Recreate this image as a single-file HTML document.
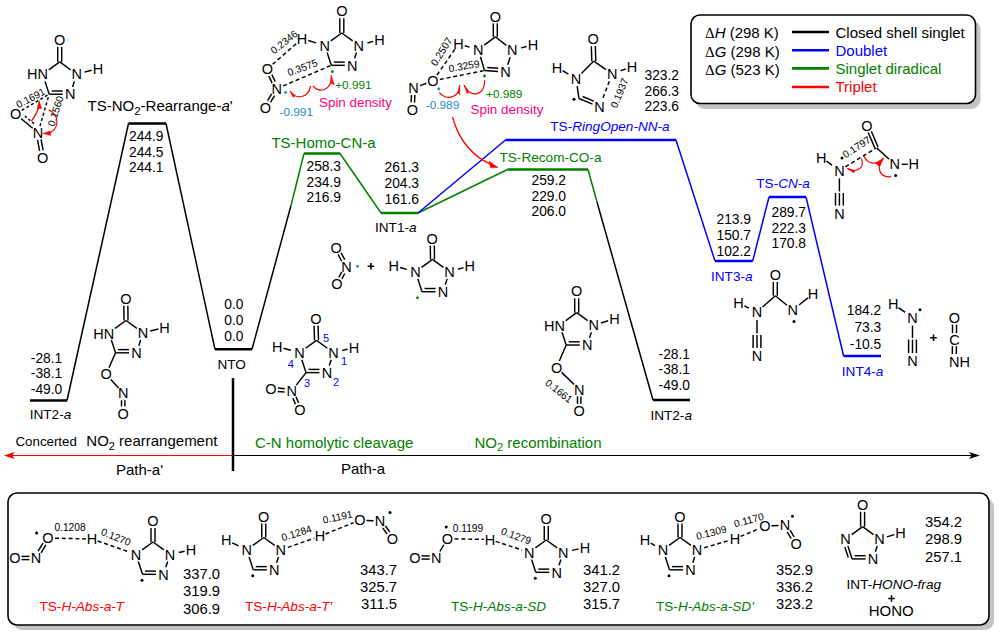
<!DOCTYPE html>
<html><head><meta charset="utf-8">
<style>
html,body{margin:0;padding:0;background:#fff;width:1000px;height:636px;overflow:hidden}
svg{display:block;font-family:"Liberation Sans",sans-serif}
.n{font-size:13.8px;fill:#000}
.lb{font-size:15px}
.it{font-style:italic}
</style></head><body>
<svg width="1000" height="636" viewBox="0 0 1000 636">
<!-- legend box -->
<rect x="695.5" y="20.5" width="285" height="88.5" rx="9" fill="#c4c4c4"/>
<rect x="691" y="15" width="284.5" height="88.5" rx="9" fill="#fff" stroke="#000" stroke-width="1.6"/>
<!-- bottom box -->
<rect x="13" y="498" width="981" height="132" rx="9" fill="#c4c4c4"/>
<rect x="8" y="493" width="981" height="132" rx="9" fill="#fff" stroke="#000" stroke-width="1.6"/>

<!-- energy levels -->
<g fill="none" stroke-linejoin="miter" stroke-linecap="butt">
 <g stroke="#000">
  <path d="M30 400.5H67" stroke-width="2.5"/>
  <path d="M67 400.5L128.5 123.5M166 123.5L215 349.3" stroke-width="1.5"/>
  <path d="M128.5 123.5H166" stroke-width="2.5"/>
  <path d="M215 349.3H252" stroke-width="2.5"/>
  <path d="M252 349.3L291 205.5" stroke-width="1.5"/>
  <path d="M597 202L653 400" stroke-width="1.5"/>
  <path d="M653 400H690" stroke-width="2.5"/>
 </g>
 <g stroke="#008000">
  <path d="M291 205.5L304 153.5M340 153.5L381 213M418 213L507.5 169.5M588 169.5L597 202" stroke-width="1.5"/>
  <path d="M304 153.5H340M381 213H418M507.5 169.5H588" stroke-width="2.5"/>
 </g>
 <g stroke="#0000ff">
  <path d="M418 213L505.5 140M676 140L715 261M752.7 261L769 197M806 197L843.6 356" stroke-width="1.5"/>
  <path d="M505.5 140H676M715 261H752.7M769 197H806M843.6 356H881" stroke-width="2.5"/>
 </g>
</g>

<!-- axis -->
<path d="M233 455.5H972" stroke="#000" stroke-width="1.1"/>
<path d="M979.8 455.5L969 452L971.5 455.5L969 459Z" fill="#000"/>
<path d="M233 455.5H12" stroke="#ff0000" stroke-width="1.2"/>
<path d="M3.8 455.5L14.6 452L12.3 455.5L14.6 459Z" fill="#ff0000"/>
<path d="M233 378V471" stroke="#000" stroke-width="2.5"/>

<!-- legend -->
<g class="lb">
 <text x="705" y="37.5"><tspan font-family="Liberation Serif">&#916;</tspan><tspan class="it">H</tspan> (298 K)</text>
 <text x="705" y="56.5"><tspan font-family="Liberation Serif">&#916;</tspan><tspan class="it">G</tspan> (298 K)</text>
 <text x="705" y="75"><tspan font-family="Liberation Serif">&#916;</tspan><tspan class="it">G</tspan> (523 K)</text>
 <path d="M792 32H829" stroke="#000" stroke-width="2.6"/>
 <path d="M792 50.2H829" stroke="#0000ff" stroke-width="2.6"/>
 <path d="M792 68.4H829" stroke="#008000" stroke-width="2.6"/>
 <path d="M792 87H829" stroke="#ff0000" stroke-width="2.6"/>
 <text x="835.5" y="37.5">Closed shell singlet</text>
 <text x="835.5" y="56" fill="#0000ff">Doublet</text>
 <text x="835.5" y="73.5" fill="#008000">Singlet diradical</text>
 <text x="835.5" y="92" fill="#ff0000">Triplet</text>
</g>

<!-- numbers -->
<g class="n" text-anchor="end">
 <text x="62.3" y="362.5">-28.1</text><text x="62.3" y="378">-38.1</text><text x="62.3" y="393.5">-49.0</text>
 <text x="163.5" y="140.5">244.9</text><text x="163.5" y="156.5">244.5</text><text x="163.5" y="172">244.1</text>
 <text x="243.5" y="309">0.0</text><text x="243.5" y="325">0.0</text><text x="243.5" y="340.5">0.0</text>
 <text x="341" y="171">258.3</text><text x="341" y="186.6">234.9</text><text x="341" y="202">216.9</text>
 <text x="419" y="172.3">261.3</text><text x="419" y="188.4">204.3</text><text x="419" y="203.8">161.6</text>
 <text x="679" y="80">323.2</text><text x="679" y="95.6">266.3</text><text x="679" y="110.7">223.6</text>
 <text x="566" y="185">259.2</text><text x="566" y="200.5">229.0</text><text x="566" y="216">206.0</text>
 <text x="690" y="358.7">-28.1</text><text x="690" y="374.3">-38.1</text><text x="690" y="390">-49.0</text>
 <text x="751" y="224">213.9</text><text x="751" y="239.9">150.7</text><text x="751" y="255.5">102.2</text>
 <text x="806" y="217.2">289.7</text><text x="806" y="232.8">222.3</text><text x="806" y="248.4">170.8</text>
 <text x="881.3" y="314.5">184.2</text><text x="881.3" y="332">73.3</text><text x="881.3" y="349.2">-10.5</text>
</g>
<g class="n" text-anchor="end" style="font-size:14.8px">
 <text x="220" y="578.7">337.0</text><text x="220" y="596">319.9</text><text x="220" y="613.7">306.9</text>
 <text x="397" y="575">343.7</text><text x="397" y="591.7">325.7</text><text x="397" y="609.2">311.5</text>
 <text x="620" y="575">341.2</text><text x="620" y="591.7">327.0</text><text x="620" y="609.2">315.7</text>
 <text x="813" y="574.5">352.9</text><text x="813" y="591.7">336.2</text><text x="813" y="609.2">323.2</text>
 <text x="962" y="526.6">354.2</text><text x="962" y="544.3">298.9</text><text x="962" y="561.7">257.1</text>
</g>

<!-- labels -->
<g class="lb">
 <text x="29.7" y="419" font-size="13.6">INT2-<tspan class="it">a</tspan></text>
 <text x="87.5" y="110.7">TS-NO<tspan font-size="11.5" dy="4">2</tspan><tspan dy="-4">-Rearrange-</tspan><tspan class="it">a</tspan>'</text>
 <text x="217.5" y="369.3" font-size="13.6">NTO</text>
 <text x="271.4" y="148" fill="#008000">TS-Homo-CN-a</text>
 <text x="375" y="232" font-size="13.6">INT1-<tspan class="it">a</tspan></text>
 <text x="550.3" y="130.8" fill="#0000ff" font-size="13.6">TS-<tspan class="it">RingOpen-NN-a</tspan></text>
 <text x="499.5" y="161.5" fill="#008000" font-size="13.6">TS-Recom-CO-a</text>
 <text x="650.4" y="419.6" font-size="13.6">INT2-<tspan class="it">a</tspan></text>
 <text x="711" y="280.6" fill="#0000ff" font-size="13.6">INT3-<tspan class="it">a</tspan></text>
 <text x="756.3" y="188" fill="#0000ff" font-size="13.6">TS-<tspan class="it">CN-a</tspan></text>
 <text x="841.8" y="376.3" fill="#0000ff" font-size="13.6">INT4-<tspan class="it">a</tspan></text>
 <text x="15.5" y="446" font-size="13.3">Concerted</text><text x="86.3" y="446">NO<tspan font-size="11" dy="3.5">2</tspan><tspan dy="-3.5"> rearrangement</tspan></text>
 <text x="116" y="474.5">Path-a'</text>
 <text x="255" y="447.5" fill="#008000">C-N homolytic cleavage</text>
 <text x="341" y="474">Path-a</text>
 <text x="474.5" y="447.5" fill="#008000">NO<tspan font-size="11" dy="3.5">2</tspan><tspan dy="-3.5"> recombination</tspan></text>
 <text x="39.5" y="610.5" font-size="13.6" fill="#ff0000">TS-<tspan class="it">H-Abs-a-T</tspan></text>
 <text x="245" y="610.5" font-size="13.6" fill="#ff0000">TS-<tspan class="it">H-Abs-a-T'</tspan></text>
 <text x="451" y="610.5" font-size="13.6" fill="#008000">TS-<tspan class="it">H-Abs-a-SD</tspan></text>
 <text x="656" y="610.5" font-size="13.6" fill="#008000">TS-<tspan class="it">H-Abs-a-SD'</tspan></text>
 <text x="846.6" y="588.7" font-size="13.6">INT-<tspan class="it">HONO-frag</tspan></text>
 <path d="M888.3 598.5H894.7M891.5 595.3V601.7" stroke="#000" stroke-width="1.5"/>
 <text x="868.7" y="616.2" font-size="15">HONO</text>
</g>
<g fill="none" stroke-linecap="butt">
<path d="M61.70 61.90L61.70 46.90" stroke="#000" stroke-width="1.45"/>
<path d="M57.70 61.90L57.70 46.90" stroke="#000" stroke-width="1.45"/>
<path d="M59.70 61.90L48.78 69.84" stroke="#000" stroke-width="1.45"/>
<path d="M59.70 61.90L70.62 69.84" stroke="#000" stroke-width="1.45"/>
<path d="M45.03 81.38L49.20 94.22" stroke="#000" stroke-width="1.45"/>
<path d="M74.37 81.38L72.52 87.08" stroke="#000" stroke-width="1.45"/>
<path d="M49.20 94.22L62.70 94.22" stroke="#000" stroke-width="1.45"/>
<path d="M51.70 91.02L62.70 91.02" stroke="#000" stroke-width="1.45"/>
<path d="M84.41 72.16L91.72 70.19" stroke="#000" stroke-width="1.45"/>
<path d="M21.05 118.51L32.65 128.29" stroke="#000" stroke-width="1.45"/>
<path d="M24.80 115.98L34.40 124.12" stroke="#000" stroke-width="1.45" stroke-dasharray="2.5,2.2"/>
<path d="M37.54 140.01L39.62 150.96" stroke="#000" stroke-width="1.45"/>
<path d="M41.08 139.34L43.16 150.29" stroke="#000" stroke-width="1.45"/>
<path d="M21.73 110.44L48.34 94.72" stroke="#000" stroke-width="1.45" stroke-dasharray="3,2.4"/>
<path d="M39.95 126.08L48.92 95.18" stroke="#000" stroke-width="1.45" stroke-dasharray="3,2.4"/>
<path d="M31.3 121.2 Q37 114 39.4 105" stroke="#ff0000" stroke-width="1.2" fill="none"/>
<path d="M39.1 100.3 L37.1 108.6 L41.7 108.6 Z" stroke="#ff0000" stroke-width="0.4" fill="#ff0000"/>
<path d="M48.6 109.9 C60 114, 60 131, 47 133.4" stroke="#ff0000" stroke-width="1.2" fill="none"/>
<path d="M42.6 133.5 L50 131 L50.8 135.6 Z" stroke="#ff0000" stroke-width="0.4" fill="#ff0000"/>
<path d="M343.80 33.00L343.80 18.30" stroke="#000" stroke-width="1.45"/>
<path d="M339.80 33.00L339.80 18.30" stroke="#000" stroke-width="1.45"/>
<path d="M341.80 33.00L330.88 40.94" stroke="#000" stroke-width="1.45"/>
<path d="M341.80 33.00L352.72 40.94" stroke="#000" stroke-width="1.45"/>
<path d="M327.13 52.48L331.30 65.32" stroke="#000" stroke-width="1.45"/>
<path d="M356.47 52.48L354.62 58.18" stroke="#000" stroke-width="1.45"/>
<path d="M331.30 65.32L344.80 65.32" stroke="#000" stroke-width="1.45"/>
<path d="M333.80 62.12L344.80 62.12" stroke="#000" stroke-width="1.45"/>
<path d="M316.17 42.83L308.24 40.52" stroke="#000" stroke-width="1.45"/>
<path d="M367.46 42.94L373.24 41.34" stroke="#000" stroke-width="1.45"/>
<path d="M268.77 75.95L272.16 83.11" stroke="#000" stroke-width="1.45"/>
<path d="M271.84 74.49L275.23 81.65" stroke="#000" stroke-width="1.45"/>
<path d="M271.64 93.82L267.55 100.62" stroke="#000" stroke-width="1.45"/>
<path d="M274.55 95.58L270.46 102.38" stroke="#000" stroke-width="1.45"/>
<path d="M272.58 64.30L297.10 42.97" stroke="#000" stroke-width="1.45" stroke-dasharray="4,2.8"/>
<path d="M283.13 85.94L330.38 65.71" stroke="#000" stroke-width="1.45" stroke-dasharray="4,2.8"/>
<path d="M290.2 91 C294 99, 308 100, 310.6 85.9" stroke="#ff0000" stroke-width="1.2" fill="none"/>
<path d="M290.2 91 L293.2 97.6 L295.2 95.6 Z" stroke="#ff0000" stroke-width="0.4" fill="#ff0000"/>
<path d="M313 85.9 C318 93, 332 92, 331.3 75.4" stroke="#ff0000" stroke-width="1.2" fill="none"/>
<path d="M331.3 75.4 L331.5 84 L334.2 84.4 Z" stroke="#ff0000" stroke-width="0.4" fill="#ff0000"/>
<path d="M497.30 36.80L497.30 23.40" stroke="#000" stroke-width="1.45"/>
<path d="M493.30 36.80L493.30 23.40" stroke="#000" stroke-width="1.45"/>
<path d="M495.30 36.80L484.29 45.09" stroke="#000" stroke-width="1.45"/>
<path d="M495.30 36.80L506.38 45.40" stroke="#000" stroke-width="1.45"/>
<path d="M480.43 56.79L484.50 70.50" stroke="#000" stroke-width="1.45"/>
<path d="M510.09 57.17L507.71 64.83" stroke="#000" stroke-width="1.45"/>
<path d="M484.50 70.50L498.02 71.47" stroke="#000" stroke-width="1.45"/>
<path d="M487.22 67.49L498.25 68.27" stroke="#000" stroke-width="1.45"/>
<path d="M469.64 47.15L464.75 45.77" stroke="#000" stroke-width="1.45"/>
<path d="M521.05 47.89L526.68 46.53" stroke="#000" stroke-width="1.45"/>
<path d="M420.07 85.58L426.43 83.22" stroke="#000" stroke-width="1.45"/>
<path d="M411.48 94.91L411.13 102.33" stroke="#000" stroke-width="1.45"/>
<path d="M414.87 95.07L414.52 102.49" stroke="#000" stroke-width="1.45"/>
<path d="M436.99 75.05L454.80 49.34" stroke="#000" stroke-width="1.45" stroke-dasharray="4,2.8"/>
<path d="M439.86 79.43L483.52 70.70" stroke="#000" stroke-width="1.45" stroke-dasharray="4,2.8"/>
<path d="M439.3 92.2 C444 100, 459 100, 459.7 85.3" stroke="#ff0000" stroke-width="1.2" fill="none"/>
<path d="M459.7 85.3 L457.8 92.4 L459.8 94.8 Z" stroke="#ff0000" stroke-width="0.4" fill="#ff0000"/>
<path d="M464.2 85.3 C468 97, 485 98, 484.6 80.2" stroke="#ff0000" stroke-width="1.2" fill="none"/>
<path d="M464.2 85.3 L467 93.6 L469.2 91.8 Z" stroke="#ff0000" stroke-width="0.4" fill="#ff0000"/>
<path d="M452.5 117 Q462 152 493 165.5" stroke="#ff0000" stroke-width="1.3" fill="none"/>
<path d="M498 167.5 L489 161 L490.5 167.8 Z" stroke="#ff0000" stroke-width="0.5" fill="#ff0000"/>
<path d="M595.80 61.04L595.32 46.03" stroke="#000" stroke-width="1.45"/>
<path d="M591.80 61.16L591.32 46.16" stroke="#000" stroke-width="1.45"/>
<path d="M593.80 61.10L581.42 73.41" stroke="#000" stroke-width="1.45"/>
<path d="M593.80 61.10L606.03 69.54" stroke="#000" stroke-width="1.45"/>
<path d="M577.19 86.12L579.00 98.50" stroke="#000" stroke-width="1.45"/>
<path d="M579.00 98.50L592.57 104.13" stroke="#000" stroke-width="1.45"/>
<path d="M582.54 96.50L593.80 101.17" stroke="#000" stroke-width="1.45"/>
<path d="M568.35 74.12L562.59 70.71" stroke="#000" stroke-width="1.45"/>
<path d="M620.67 70.76L625.88 68.89" stroke="#000" stroke-width="1.45"/>
<path d="M609.34 81.27L602.36 99.53" stroke="#000" stroke-width="1.45" stroke-dasharray="4,2.8"/>
<path d="M878.16 147.23L871.31 131.17" stroke="#000" stroke-width="1.45"/>
<path d="M875.04 148.57L868.18 132.51" stroke="#000" stroke-width="1.45"/>
<path d="M876.60 147.90L889.23 159.28" stroke="#000" stroke-width="1.45"/>
<path d="M901.80 164.30L907.80 164.30" stroke="#000" stroke-width="1.45"/>
<path d="M832.08 165.17L826.49 161.18" stroke="#000" stroke-width="1.45"/>
<path d="M839.40 178.40L839.40 191.50" stroke="#000" stroke-width="1.45"/>
<path d="M843.30 193.00L843.30 205.60" stroke="#000" stroke-width="1.45"/>
<path d="M839.40 193.00L839.40 205.60" stroke="#000" stroke-width="1.45"/>
<path d="M835.50 193.00L835.50 205.60" stroke="#000" stroke-width="1.45"/>
<path d="M845.39 166.78L875.74 148.42" stroke="#000" stroke-width="1.45" stroke-dasharray="4,2.8"/>
<path d="M847.2 168.3 C853 173, 866 170, 861.3 158.4" stroke="#ff0000" stroke-width="1.2" fill="none"/>
<path d="M847.2 168.3 L853.8 173 L855 170.4 Z" stroke="#ff0000" stroke-width="0.4" fill="#ff0000"/>
<path d="M864 156 C867 164, 878 166, 883.2 158.4" stroke="#ff0000" stroke-width="1.2" fill="none"/>
<path d="M883.2 158.4 C876 167, 879 178, 891 176.7" stroke="#ff0000" stroke-width="1.2" fill="none"/>
<path d="M883.5 158.2 L875.5 162.8 L878 165 Z" stroke="#ff0000" stroke-width="0.4" fill="#ff0000"/>
<path d="M883.5 158.2 L876.8 164.5 L879.8 166.5 Z" stroke="#ff0000" stroke-width="0.4" fill="#ff0000"/>
<path d="M777.30 295.70L777.30 282.00" stroke="#000" stroke-width="1.45"/>
<path d="M773.30 295.70L773.30 282.00" stroke="#000" stroke-width="1.45"/>
<path d="M775.30 295.70L762.60 307.01" stroke="#000" stroke-width="1.45"/>
<path d="M775.30 295.70L786.99 305.25" stroke="#000" stroke-width="1.45"/>
<path d="M748.91 308.06L744.35 305.84" stroke="#000" stroke-width="1.45"/>
<path d="M799.03 304.98L807.84 297.88" stroke="#000" stroke-width="1.45"/>
<path d="M757.00 320.00L757.00 333.50" stroke="#000" stroke-width="1.45"/>
<path d="M760.90 335.00L760.90 348.00" stroke="#000" stroke-width="1.45"/>
<path d="M757.00 335.00L757.00 348.00" stroke="#000" stroke-width="1.45"/>
<path d="M753.10 335.00L753.10 348.00" stroke="#000" stroke-width="1.45"/>
<path d="M905.18 312.37L898.49 307.58" stroke="#000" stroke-width="1.45"/>
<path d="M912.50 325.60L912.50 338.00" stroke="#000" stroke-width="1.45"/>
<path d="M916.40 339.50L916.40 353.00" stroke="#000" stroke-width="1.45"/>
<path d="M912.50 339.50L912.50 353.00" stroke="#000" stroke-width="1.45"/>
<path d="M908.60 339.50L908.60 353.00" stroke="#000" stroke-width="1.45"/>
<path d="M930.20 337.80H936.80M933.50 334.50V341.10" stroke="#000" stroke-width="1.6"/>
<path d="M956.50 333.10L956.50 324.60" stroke="#000" stroke-width="1.45"/>
<path d="M952.50 333.10L952.50 324.60" stroke="#000" stroke-width="1.45"/>
<path d="M952.41 346.07L952.30 353.97" stroke="#000" stroke-width="1.45"/>
<path d="M956.41 346.13L956.30 354.03" stroke="#000" stroke-width="1.45"/>
<path d="M344.76 259.64L341.03 252.75" stroke="#000" stroke-width="1.45"/>
<path d="M341.77 261.25L338.04 254.36" stroke="#000" stroke-width="1.45"/>
<path d="M341.76 271.93L338.86 277.24" stroke="#000" stroke-width="1.45"/>
<path d="M344.74 273.56L341.84 278.87" stroke="#000" stroke-width="1.45"/>
<path d="M367.60 266.30H374.20M370.90 263.00V269.60" stroke="#000" stroke-width="1.6"/>
<path d="M434.50 259.37L434.30 245.57" stroke="#000" stroke-width="1.45"/>
<path d="M430.50 259.43L430.30 245.63" stroke="#000" stroke-width="1.45"/>
<path d="M432.50 259.40L421.58 267.34" stroke="#000" stroke-width="1.45"/>
<path d="M432.50 259.40L443.42 267.34" stroke="#000" stroke-width="1.45"/>
<path d="M417.83 278.88L422.00 291.72" stroke="#000" stroke-width="1.45"/>
<path d="M447.17 278.88L445.32 284.58" stroke="#000" stroke-width="1.45"/>
<path d="M422.00 291.72L435.50 291.72" stroke="#000" stroke-width="1.45"/>
<path d="M424.50 288.52L435.50 288.52" stroke="#000" stroke-width="1.45"/>
<path d="M406.83 269.37L400.07 267.52" stroke="#000" stroke-width="1.45"/>
<path d="M458.13 269.22L463.56 267.63" stroke="#000" stroke-width="1.45"/>
<path d="M318.50 340.24L318.09 325.54" stroke="#000" stroke-width="1.45"/>
<path d="M314.50 340.36L314.09 325.65" stroke="#000" stroke-width="1.45"/>
<path d="M316.50 340.30L305.58 348.24" stroke="#000" stroke-width="1.45"/>
<path d="M316.50 340.30L327.42 348.24" stroke="#000" stroke-width="1.45"/>
<path d="M301.83 359.78L306.00 372.62" stroke="#000" stroke-width="1.45"/>
<path d="M331.17 359.78L329.32 365.48" stroke="#000" stroke-width="1.45"/>
<path d="M306.00 372.62L319.50 372.62" stroke="#000" stroke-width="1.45"/>
<path d="M308.50 369.42L319.50 369.42" stroke="#000" stroke-width="1.45"/>
<path d="M290.82 350.29L283.47 348.30" stroke="#000" stroke-width="1.45"/>
<path d="M342.22 350.45L347.70 349.08" stroke="#000" stroke-width="1.45"/>
<path d="M306.00 372.62L296.30 385.08" stroke="#000" stroke-width="1.45"/>
<path d="M284.88 388.67L278.03 388.04" stroke="#000" stroke-width="1.45"/>
<path d="M284.57 392.06L277.72 391.43" stroke="#000" stroke-width="1.45"/>
<path d="M292.88 398.11L295.49 404.23" stroke="#000" stroke-width="1.45"/>
<path d="M296.01 396.77L298.62 402.89" stroke="#000" stroke-width="1.45"/>
<path d="M128.00 320.48L127.86 305.78" stroke="#000" stroke-width="1.45"/>
<path d="M124.00 320.52L123.86 305.82" stroke="#000" stroke-width="1.45"/>
<path d="M126.00 320.50L115.08 328.44" stroke="#000" stroke-width="1.45"/>
<path d="M126.00 320.50L136.92 328.44" stroke="#000" stroke-width="1.45"/>
<path d="M111.33 339.98L115.50 352.82" stroke="#000" stroke-width="1.45"/>
<path d="M140.67 339.98L138.82 345.68" stroke="#000" stroke-width="1.45"/>
<path d="M115.50 352.82L129.00 352.82" stroke="#000" stroke-width="1.45"/>
<path d="M118.00 349.62L129.00 349.62" stroke="#000" stroke-width="1.45"/>
<path d="M150.27 331.04L158.29 329.06" stroke="#000" stroke-width="1.45"/>
<path d="M115.50 352.82L108.99 367.78" stroke="#000" stroke-width="1.45"/>
<path d="M110.85 379.43L118.55 388.07" stroke="#000" stroke-width="1.45"/>
<path d="M121.50 400.30L121.50 406.40" stroke="#000" stroke-width="1.45"/>
<path d="M124.90 400.30L124.90 406.40" stroke="#000" stroke-width="1.45"/>
<path d="M578.70 312.70L578.70 298.30" stroke="#000" stroke-width="1.45"/>
<path d="M574.70 312.70L574.70 298.30" stroke="#000" stroke-width="1.45"/>
<path d="M576.70 312.70L565.78 320.64" stroke="#000" stroke-width="1.45"/>
<path d="M576.70 312.70L587.62 320.64" stroke="#000" stroke-width="1.45"/>
<path d="M562.03 332.18L566.20 345.02" stroke="#000" stroke-width="1.45"/>
<path d="M591.37 332.18L589.52 337.88" stroke="#000" stroke-width="1.45"/>
<path d="M566.20 345.02L579.70 345.02" stroke="#000" stroke-width="1.45"/>
<path d="M568.70 341.82L579.70 341.82" stroke="#000" stroke-width="1.45"/>
<path d="M600.89 322.94L608.16 320.82" stroke="#000" stroke-width="1.45"/>
<path d="M566.20 345.02L559.35 361.06" stroke="#000" stroke-width="1.45"/>
<path d="M561.63 372.37L574.17 384.53" stroke="#000" stroke-width="1.45"/>
<path d="M577.50 396.40L577.50 403.80" stroke="#000" stroke-width="1.45"/>
<path d="M580.90 396.40L580.90 403.80" stroke="#000" stroke-width="1.45"/>
<path d="M21.50 559.60L29.50 559.60" stroke="#000" stroke-width="1.45"/>
<path d="M21.50 556.40L29.50 556.40" stroke="#000" stroke-width="1.45"/>
<path d="M41.06 552.87L45.86 544.88" stroke="#000" stroke-width="1.45"/>
<path d="M38.14 551.12L42.94 543.13" stroke="#000" stroke-width="1.45"/>
<path d="M55.00 538.16L86.00 538.86" stroke="#000" stroke-width="1.45" stroke-dasharray="4,2.8"/>
<path d="M155.00 542.00L155.00 528.00" stroke="#000" stroke-width="1.45"/>
<path d="M151.00 542.00L151.00 528.00" stroke="#000" stroke-width="1.45"/>
<path d="M153.00 542.00L142.08 549.94" stroke="#000" stroke-width="1.45"/>
<path d="M153.00 542.00L163.92 549.94" stroke="#000" stroke-width="1.45"/>
<path d="M138.33 561.48L142.50 574.32" stroke="#000" stroke-width="1.45"/>
<path d="M167.67 561.48L165.82 567.18" stroke="#000" stroke-width="1.45"/>
<path d="M142.50 574.32L156.00 574.32" stroke="#000" stroke-width="1.45"/>
<path d="M145.00 571.12L156.00 571.12" stroke="#000" stroke-width="1.45"/>
<path d="M178.80 552.52L184.63 551.32" stroke="#000" stroke-width="1.45"/>
<path d="M97.67 540.98L128.93 551.87" stroke="#000" stroke-width="1.45" stroke-dasharray="4,2.8"/>
<path d="M265.75 537.50L265.75 523.50" stroke="#000" stroke-width="1.45"/>
<path d="M261.75 537.50L261.75 523.50" stroke="#000" stroke-width="1.45"/>
<path d="M263.75 537.50L252.83 545.44" stroke="#000" stroke-width="1.45"/>
<path d="M263.75 537.50L274.67 545.44" stroke="#000" stroke-width="1.45"/>
<path d="M249.08 556.98L253.25 569.82" stroke="#000" stroke-width="1.45"/>
<path d="M278.42 556.98L276.57 562.68" stroke="#000" stroke-width="1.45"/>
<path d="M253.25 569.82L266.75 569.82" stroke="#000" stroke-width="1.45"/>
<path d="M255.75 566.62L266.75 566.62" stroke="#000" stroke-width="1.45"/>
<path d="M238.65 545.95L232.11 542.81" stroke="#000" stroke-width="1.45"/>
<path d="M287.83 547.39L314.33 538.21" stroke="#000" stroke-width="1.45" stroke-dasharray="4,2.8"/>
<path d="M325.56 533.99L353.51 522.63" stroke="#000" stroke-width="1.45" stroke-dasharray="4,2.8"/>
<path d="M366.49 520.41L373.51 520.84" stroke="#000" stroke-width="1.45"/>
<path d="M382.69 527.93L387.05 534.04" stroke="#000" stroke-width="1.45"/>
<path d="M385.45 525.96L389.81 532.07" stroke="#000" stroke-width="1.45"/>
<path d="M421.50 559.10L429.75 559.10" stroke="#000" stroke-width="1.45"/>
<path d="M421.50 555.90L429.75 555.90" stroke="#000" stroke-width="1.45"/>
<path d="M439.85 551.50L443.90 544.75" stroke="#000" stroke-width="1.45"/>
<path d="M454.50 538.87L484.00 539.39" stroke="#000" stroke-width="1.45" stroke-dasharray="4,2.8"/>
<path d="M548.25 540.00L548.25 526.00" stroke="#000" stroke-width="1.45"/>
<path d="M544.25 540.00L544.25 526.00" stroke="#000" stroke-width="1.45"/>
<path d="M546.25 540.00L535.33 547.94" stroke="#000" stroke-width="1.45"/>
<path d="M546.25 540.00L557.17 547.94" stroke="#000" stroke-width="1.45"/>
<path d="M531.58 559.48L535.75 572.32" stroke="#000" stroke-width="1.45"/>
<path d="M560.92 559.48L559.07 565.18" stroke="#000" stroke-width="1.45"/>
<path d="M535.75 572.32L549.25 572.32" stroke="#000" stroke-width="1.45"/>
<path d="M538.25 569.12L549.25 569.12" stroke="#000" stroke-width="1.45"/>
<path d="M572.02 550.39L578.66 548.91" stroke="#000" stroke-width="1.45"/>
<path d="M495.70 541.37L522.13 550.01" stroke="#000" stroke-width="1.45" stroke-dasharray="4,2.8"/>
<path d="M682.00 537.50L682.00 523.50" stroke="#000" stroke-width="1.45"/>
<path d="M678.00 537.50L678.00 523.50" stroke="#000" stroke-width="1.45"/>
<path d="M680.00 537.50L669.08 545.44" stroke="#000" stroke-width="1.45"/>
<path d="M680.00 537.50L690.92 545.44" stroke="#000" stroke-width="1.45"/>
<path d="M665.33 556.98L669.50 569.82" stroke="#000" stroke-width="1.45"/>
<path d="M694.67 556.98L692.82 562.68" stroke="#000" stroke-width="1.45"/>
<path d="M669.50 569.82L683.00 569.82" stroke="#000" stroke-width="1.45"/>
<path d="M672.00 566.62L683.00 566.62" stroke="#000" stroke-width="1.45"/>
<path d="M655.11 545.53L650.70 543.12" stroke="#000" stroke-width="1.45"/>
<path d="M704.19 547.74L729.24 540.43" stroke="#000" stroke-width="1.45" stroke-dasharray="4,2.8"/>
<path d="M740.54 536.44L758.54 528.94" stroke="#000" stroke-width="1.45" stroke-dasharray="4,2.8"/>
<path d="M771.49 525.84L778.51 525.41" stroke="#000" stroke-width="1.45"/>
<path d="M787.14 531.88L791.19 538.62" stroke="#000" stroke-width="1.45"/>
<path d="M790.06 530.13L794.11 536.87" stroke="#000" stroke-width="1.45"/>
<path d="M864.60 526.60L864.60 511.80" stroke="#000" stroke-width="1.45"/>
<path d="M860.60 526.60L860.60 511.80" stroke="#000" stroke-width="1.45"/>
<path d="M862.60 526.60L851.68 534.54" stroke="#000" stroke-width="1.45"/>
<path d="M862.60 526.60L873.52 534.54" stroke="#000" stroke-width="1.45"/>
<path d="M847.93 546.08L852.10 558.92" stroke="#000" stroke-width="1.45"/>
<path d="M844.88 547.07L848.28 557.53" stroke="#000" stroke-width="1.45"/>
<path d="M877.27 546.08L875.42 551.78" stroke="#000" stroke-width="1.45"/>
<path d="M852.10 558.92L865.60 558.92" stroke="#000" stroke-width="1.45"/>
<path d="M854.60 555.72L865.60 555.72" stroke="#000" stroke-width="1.45"/>
<path d="M886.79 536.84L894.36 534.62" stroke="#000" stroke-width="1.45"/>
</g>
<g>
<text x="59.70" y="45.09" text-anchor="middle" font-size="14.5" fill="#000" >O</text>
<text x="47.91" y="79.43" text-anchor="end" font-size="14.5" fill="#000" >HN</text>
<text x="76.69" y="79.43" text-anchor="middle" font-size="14.5" fill="#000" >N</text>
<text x="70.20" y="99.41" text-anchor="middle" font-size="14.5" fill="#000" >N</text>
<text x="98.00" y="73.69" text-anchor="middle" font-size="14.5" fill="#000" >H</text>
<text x="15.70" y="119.19" text-anchor="middle" font-size="14.5" fill="#000" >O</text>
<text x="38.00" y="137.99" text-anchor="middle" font-size="14.5" fill="#000" >N</text>
<text x="42.70" y="162.69" text-anchor="middle" font-size="14.5" fill="#000" >O</text>
<text transform="translate(30.50,98.00) rotate(-28)" x="0" y="3.65" text-anchor="middle" font-size="10.2" fill="#000" >0.1691</text>
<text transform="translate(55.50,111.00) rotate(-72)" x="0" y="3.65" text-anchor="middle" font-size="10.2" fill="#000" >0.1560</text>
<text x="341.80" y="16.49" text-anchor="middle" font-size="14.5" fill="#000" >O</text>
<text x="324.81" y="50.53" text-anchor="middle" font-size="14.5" fill="#000" >N</text>
<text x="358.79" y="50.53" text-anchor="middle" font-size="14.5" fill="#000" >N</text>
<text x="352.30" y="70.51" text-anchor="middle" font-size="14.5" fill="#000" >N</text>
<text x="302.00" y="43.89" text-anchor="middle" font-size="14.5" fill="#000" >H</text>
<text x="379.50" y="44.79" text-anchor="middle" font-size="14.5" fill="#000" >H</text>
<text x="267.30" y="74.09" text-anchor="middle" font-size="14.5" fill="#000" >O</text>
<text x="276.70" y="93.89" text-anchor="middle" font-size="14.5" fill="#000" >N</text>
<text x="265.40" y="112.69" text-anchor="middle" font-size="14.5" fill="#000" >O</text>
<text transform="translate(284.00,42.00) rotate(-38)" x="0" y="3.65" text-anchor="middle" font-size="10.2" fill="#000" >0.2346</text>
<text transform="translate(302.50,67.50) rotate(-20)" x="0" y="3.65" text-anchor="middle" font-size="10.2" fill="#000" >0.3575</text>
<circle cx="285.60" cy="92.50" r="1.4" fill="#1a8ad4"/>
<circle cx="332.40" cy="71.70" r="1.4" fill="#008000"/>
<text x="279.50" y="116.02" text-anchor="start" font-size="11.8" fill="#1a8ad4" >-0.991</text>
<text x="335.20" y="88.72" text-anchor="start" font-size="11.8" fill="#008000" >+0.991</text>
<text x="319.00" y="106.80" text-anchor="start" font-size="13.4" fill="#ff0080" >Spin density</text>
<text x="495.30" y="21.59" text-anchor="middle" font-size="14.5" fill="#000" >O</text>
<text x="478.30" y="54.79" text-anchor="middle" font-size="14.5" fill="#000" >N</text>
<text x="512.30" y="55.19" text-anchor="middle" font-size="14.5" fill="#000" >N</text>
<text x="505.50" y="77.19" text-anchor="middle" font-size="14.5" fill="#000" >N</text>
<text x="458.50" y="49.19" text-anchor="middle" font-size="14.5" fill="#000" >H</text>
<text x="533.00" y="50.19" text-anchor="middle" font-size="14.5" fill="#000" >H</text>
<text x="433.00" y="85.99" text-anchor="middle" font-size="14.5" fill="#000" >O</text>
<text x="413.50" y="93.19" text-anchor="middle" font-size="14.5" fill="#000" >N</text>
<text x="412.50" y="114.59" text-anchor="middle" font-size="14.5" fill="#000" >O</text>
<text transform="translate(441.50,51.50) rotate(-58)" x="0" y="3.65" text-anchor="middle" font-size="10.2" fill="#000" >0.2507</text>
<text transform="translate(464.00,66.00) rotate(-10)" x="0" y="3.65" text-anchor="middle" font-size="10.2" fill="#000" >0.3259</text>
<circle cx="438.70" cy="89.00" r="1.4" fill="#1a8ad4"/>
<circle cx="484.50" cy="76.00" r="1.4" fill="#008000"/>
<text x="425.80" y="109.42" text-anchor="start" font-size="11.8" fill="#1a8ad4" >-0.989</text>
<text x="486.00" y="97.72" text-anchor="start" font-size="11.8" fill="#008000" >+0.989</text>
<text x="470.50" y="114.30" text-anchor="start" font-size="13.4" fill="#ff0080" >Spin density</text>
<text x="593.10" y="44.29" text-anchor="middle" font-size="14.5" fill="#000" >O</text>
<text x="576.10" y="83.89" text-anchor="middle" font-size="14.5" fill="#000" >N</text>
<text x="612.20" y="78.99" text-anchor="middle" font-size="14.5" fill="#000" >N</text>
<text x="599.50" y="112.19" text-anchor="middle" font-size="14.5" fill="#000" >N</text>
<text x="557.00" y="72.59" text-anchor="middle" font-size="14.5" fill="#000" >H</text>
<text x="632.00" y="71.89" text-anchor="middle" font-size="14.5" fill="#000" >H</text>
<circle cx="574.00" cy="99.30" r="1.5" fill="#000"/>
<text transform="translate(619.30,93.00) rotate(-68)" x="0" y="3.65" text-anchor="middle" font-size="10.2" fill="#000" >0.1937</text>
<text x="867.00" y="130.59" text-anchor="middle" font-size="14.5" fill="#000" >O</text>
<text x="894.80" y="169.49" text-anchor="middle" font-size="14.5" fill="#000" >N</text>
<text x="913.80" y="169.49" text-anchor="middle" font-size="14.5" fill="#000" >H</text>
<text x="839.40" y="175.59" text-anchor="middle" font-size="14.5" fill="#000" >N</text>
<text x="821.20" y="162.59" text-anchor="middle" font-size="14.5" fill="#000" >H</text>
<text x="839.40" y="218.79" text-anchor="middle" font-size="14.5" fill="#000" >N</text>
<circle cx="895.60" cy="175.50" r="1.5" fill="#000"/>
<circle cx="842.00" cy="158.00" r="1.5" fill="#000"/>
<text transform="translate(856.50,147.00) rotate(-33)" x="0" y="3.65" text-anchor="middle" font-size="10.2" fill="#000" >0.1797</text>
<text x="775.30" y="280.19" text-anchor="middle" font-size="14.5" fill="#000" >O</text>
<text x="757.00" y="317.19" text-anchor="middle" font-size="14.5" fill="#000" >N</text>
<text x="738.50" y="308.19" text-anchor="middle" font-size="14.5" fill="#000" >H</text>
<text x="792.80" y="315.19" text-anchor="middle" font-size="14.5" fill="#000" >N</text>
<text x="812.90" y="298.99" text-anchor="middle" font-size="14.5" fill="#000" >H</text>
<text x="757.00" y="361.19" text-anchor="middle" font-size="14.5" fill="#000" >N</text>
<circle cx="794.00" cy="321.50" r="1.5" fill="#000"/>
<text x="893.20" y="308.99" text-anchor="middle" font-size="14.5" fill="#000" >H</text>
<text x="912.50" y="322.79" text-anchor="middle" font-size="14.5" fill="#000" >N</text>
<text x="912.50" y="366.19" text-anchor="middle" font-size="14.5" fill="#000" >N</text>
<circle cx="920.00" cy="309.80" r="1.5" fill="#000"/>
<text x="954.50" y="322.79" text-anchor="middle" font-size="14.5" fill="#000" >O</text>
<text x="954.50" y="344.79" text-anchor="middle" font-size="14.5" fill="#000" >C</text>
<text x="949.00" y="366.89" text-anchor="start" font-size="14.5" fill="#000" >NH</text>
<text x="336.20" y="252.59" text-anchor="middle" font-size="14.5" fill="#000" >O</text>
<text x="346.60" y="271.79" text-anchor="middle" font-size="14.5" fill="#000" >N</text>
<text x="337.00" y="289.39" text-anchor="middle" font-size="14.5" fill="#000" >O</text>
<circle cx="357.50" cy="266.30" r="1.4" fill="#1a8ad4"/>
<text x="432.20" y="243.79" text-anchor="middle" font-size="14.5" fill="#000" >O</text>
<text x="415.51" y="276.93" text-anchor="middle" font-size="14.5" fill="#000" >N</text>
<text x="449.49" y="276.93" text-anchor="middle" font-size="14.5" fill="#000" >N</text>
<text x="443.00" y="296.91" text-anchor="middle" font-size="14.5" fill="#000" >N</text>
<text x="393.80" y="270.99" text-anchor="middle" font-size="14.5" fill="#000" >H</text>
<text x="469.80" y="270.99" text-anchor="middle" font-size="14.5" fill="#000" >H</text>
<circle cx="417.50" cy="297.80" r="1.4" fill="#008000"/>
<text x="315.90" y="323.79" text-anchor="middle" font-size="14.5" fill="#000" >O</text>
<text x="299.51" y="357.83" text-anchor="middle" font-size="14.5" fill="#000" >N</text>
<text x="333.49" y="357.83" text-anchor="middle" font-size="14.5" fill="#000" >N</text>
<text x="327.00" y="377.81" text-anchor="middle" font-size="14.5" fill="#000" >N</text>
<text x="277.20" y="351.79" text-anchor="middle" font-size="14.5" fill="#000" >H</text>
<text x="354.00" y="352.69" text-anchor="middle" font-size="14.5" fill="#000" >H</text>
<text x="291.70" y="396.19" text-anchor="middle" font-size="14.5" fill="#000" >N</text>
<text x="270.90" y="394.29" text-anchor="middle" font-size="14.5" fill="#000" >O</text>
<text x="299.80" y="415.19" text-anchor="middle" font-size="14.5" fill="#000" >O</text>
<text x="326.00" y="341.54" text-anchor="middle" font-size="11" fill="#0000ff" >5</text>
<text x="344.10" y="364.94" text-anchor="middle" font-size="11" fill="#0000ff" >1</text>
<text x="290.80" y="367.74" text-anchor="middle" font-size="11" fill="#0000ff" >4</text>
<text x="307.00" y="386.74" text-anchor="middle" font-size="11" fill="#0000ff" >3</text>
<text x="336.00" y="385.84" text-anchor="middle" font-size="11" fill="#0000ff" >2</text>
<text x="125.80" y="303.99" text-anchor="middle" font-size="14.5" fill="#000" >O</text>
<text x="114.21" y="338.53" text-anchor="end" font-size="14.5" fill="#000" >HN</text>
<text x="142.99" y="338.03" text-anchor="middle" font-size="14.5" fill="#000" >N</text>
<text x="136.50" y="358.01" text-anchor="middle" font-size="14.5" fill="#000" >N</text>
<text x="164.60" y="332.69" text-anchor="middle" font-size="14.5" fill="#000" >H</text>
<text x="106.20" y="379.39" text-anchor="middle" font-size="14.5" fill="#000" >O</text>
<text x="123.20" y="398.49" text-anchor="middle" font-size="14.5" fill="#000" >N</text>
<text x="123.20" y="418.59" text-anchor="middle" font-size="14.5" fill="#000" >O</text>
<text x="576.70" y="296.49" text-anchor="middle" font-size="14.5" fill="#000" >O</text>
<text x="564.91" y="330.73" text-anchor="end" font-size="14.5" fill="#000" >HN</text>
<text x="593.69" y="330.23" text-anchor="middle" font-size="14.5" fill="#000" >N</text>
<text x="587.20" y="350.21" text-anchor="middle" font-size="14.5" fill="#000" >N</text>
<text x="614.40" y="324.19" text-anchor="middle" font-size="14.5" fill="#000" >H</text>
<text x="556.60" y="372.69" text-anchor="middle" font-size="14.5" fill="#000" >O</text>
<text x="579.20" y="394.59" text-anchor="middle" font-size="14.5" fill="#000" >N</text>
<text x="579.20" y="415.99" text-anchor="middle" font-size="14.5" fill="#000" >O</text>
<text transform="translate(559.00,391.00) rotate(38)" x="0" y="3.65" text-anchor="middle" font-size="10.2" fill="#000" >0.1661</text>
<text x="15.00" y="563.19" text-anchor="middle" font-size="14.5" fill="#000" >O</text>
<text x="36.00" y="563.19" text-anchor="middle" font-size="14.5" fill="#000" >N</text>
<text x="48.00" y="543.19" text-anchor="middle" font-size="14.5" fill="#000" >O</text>
<circle cx="36.60" cy="533.00" r="1.5" fill="#000"/>
<text x="92.00" y="544.19" text-anchor="middle" font-size="14.5" fill="#000" >H</text>
<text x="153.00" y="526.19" text-anchor="middle" font-size="14.5" fill="#000" >O</text>
<text x="136.01" y="559.53" text-anchor="middle" font-size="14.5" fill="#000" >N</text>
<text x="169.99" y="559.53" text-anchor="middle" font-size="14.5" fill="#000" >N</text>
<text x="163.50" y="579.51" text-anchor="middle" font-size="14.5" fill="#000" >N</text>
<text x="191.00" y="555.19" text-anchor="middle" font-size="14.5" fill="#000" >H</text>
<circle cx="142.00" cy="580.32" r="1.5" fill="#000"/>
<text x="70.00" y="530.65" text-anchor="middle" font-size="10.2" fill="#000" >0.1208</text>
<text transform="translate(116.00,537.00) rotate(22)" x="0" y="3.65" text-anchor="middle" font-size="10.2" fill="#000" >0.1270</text>
<text x="263.75" y="521.69" text-anchor="middle" font-size="14.5" fill="#000" >O</text>
<text x="246.76" y="555.03" text-anchor="middle" font-size="14.5" fill="#000" >N</text>
<text x="280.74" y="555.03" text-anchor="middle" font-size="14.5" fill="#000" >N</text>
<text x="274.25" y="575.01" text-anchor="middle" font-size="14.5" fill="#000" >N</text>
<text x="226.25" y="545.19" text-anchor="middle" font-size="14.5" fill="#000" >H</text>
<circle cx="252.75" cy="575.82" r="1.5" fill="#000"/>
<text x="320.00" y="541.44" text-anchor="middle" font-size="14.5" fill="#000" >H</text>
<text transform="translate(296.50,533.00) rotate(-18)" x="0" y="3.65" text-anchor="middle" font-size="10.2" fill="#000" >0.1284</text>
<text x="360.00" y="525.19" text-anchor="middle" font-size="14.5" fill="#000" >O</text>
<text x="380.00" y="526.44" text-anchor="middle" font-size="14.5" fill="#000" >N</text>
<text x="392.50" y="543.94" text-anchor="middle" font-size="14.5" fill="#000" >O</text>
<circle cx="390.00" cy="512.50" r="1.5" fill="#000"/>
<text transform="translate(337.50,517.00) rotate(-12)" x="0" y="3.65" text-anchor="middle" font-size="10.2" fill="#000" >0.1191</text>
<text x="415.00" y="562.69" text-anchor="middle" font-size="14.5" fill="#000" >O</text>
<text x="436.25" y="562.69" text-anchor="middle" font-size="14.5" fill="#000" >N</text>
<text x="447.50" y="543.94" text-anchor="middle" font-size="14.5" fill="#000" >O</text>
<circle cx="446.25" cy="527.00" r="1.5" fill="#000"/>
<text x="490.00" y="544.69" text-anchor="middle" font-size="14.5" fill="#000" >H</text>
<text x="546.25" y="524.19" text-anchor="middle" font-size="14.5" fill="#000" >O</text>
<text x="529.26" y="557.53" text-anchor="middle" font-size="14.5" fill="#000" >N</text>
<text x="563.24" y="557.53" text-anchor="middle" font-size="14.5" fill="#000" >N</text>
<text x="556.75" y="577.51" text-anchor="middle" font-size="14.5" fill="#000" >N</text>
<text x="585.00" y="552.69" text-anchor="middle" font-size="14.5" fill="#000" >H</text>
<circle cx="535.25" cy="578.32" r="1.5" fill="#000"/>
<text x="468.00" y="532.15" text-anchor="middle" font-size="10.2" fill="#000" >0.1199</text>
<text transform="translate(516.25,536.00) rotate(20)" x="0" y="3.65" text-anchor="middle" font-size="10.2" fill="#000" >0.1279</text>
<text x="680.00" y="521.69" text-anchor="middle" font-size="14.5" fill="#000" >O</text>
<text x="663.01" y="555.03" text-anchor="middle" font-size="14.5" fill="#000" >N</text>
<text x="696.99" y="555.03" text-anchor="middle" font-size="14.5" fill="#000" >N</text>
<text x="690.50" y="575.01" text-anchor="middle" font-size="14.5" fill="#000" >N</text>
<text x="645.00" y="545.19" text-anchor="middle" font-size="14.5" fill="#000" >H</text>
<circle cx="669.00" cy="575.82" r="1.5" fill="#000"/>
<text x="735.00" y="543.94" text-anchor="middle" font-size="14.5" fill="#000" >H</text>
<text transform="translate(711.25,532.50) rotate(-15)" x="0" y="3.65" text-anchor="middle" font-size="10.2" fill="#000" >0.1309</text>
<text x="765.00" y="531.44" text-anchor="middle" font-size="14.5" fill="#000" >O</text>
<text x="785.00" y="530.19" text-anchor="middle" font-size="14.5" fill="#000" >N</text>
<text x="796.25" y="548.94" text-anchor="middle" font-size="14.5" fill="#000" >O</text>
<circle cx="792.50" cy="516.25" r="1.5" fill="#000"/>
<text transform="translate(748.75,520.00) rotate(-15)" x="0" y="3.65" text-anchor="middle" font-size="10.2" fill="#000" >0.1170</text>
<text x="862.60" y="509.99" text-anchor="middle" font-size="14.5" fill="#000" >O</text>
<text x="845.61" y="544.13" text-anchor="middle" font-size="14.5" fill="#000" >N</text>
<text x="879.59" y="544.13" text-anchor="middle" font-size="14.5" fill="#000" >N</text>
<text x="873.10" y="564.11" text-anchor="middle" font-size="14.5" fill="#000" >N</text>
<text x="900.60" y="537.99" text-anchor="middle" font-size="14.5" fill="#000" >H</text>
</g>
</svg>
</body></html>
